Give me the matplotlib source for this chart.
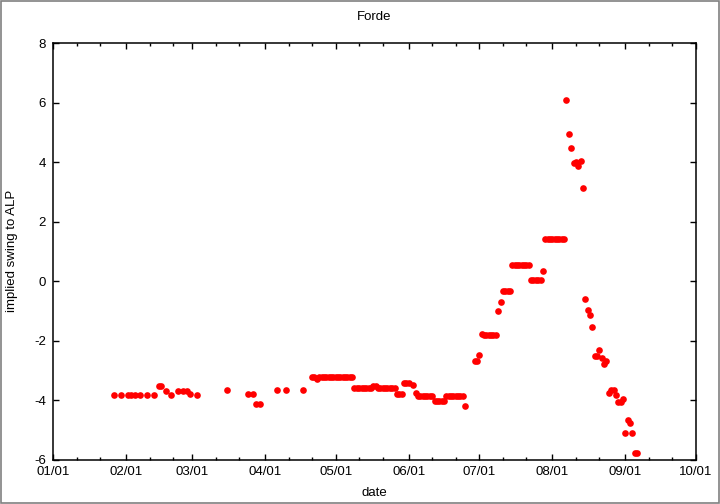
import matplotlib
matplotlib.use('Agg')
import matplotlib.pyplot as plt
import matplotlib.dates as mdates
from matplotlib.patches import Rectangle
import pandas as pd

plt.rcParams['font.family'] = ['Liberation Sans', 'DejaVu Sans']
plt.rcParams['font.size'] = 9.5
plt.rcParams['axes.unicode_minus'] = False  # guion simple como en gnuplot

# Fechas de las encuestas (2013, formato MM-DD)
fechas = [
    '01-27', '01-30', '02-02', '02-03', '02-05', '02-07', '02-10', '02-13',
    '02-15', '02-16', '02-18', '02-20', '02-23', '02-25', '02-27', '02-28',
    '03-03', '03-16', '03-25', '03-27', '03-28', '03-30', '04-06', '04-10',
    '04-17',
    '04-21', '04-22', '04-23', '04-24', '04-25', '04-26', '04-27', '04-28',
    '04-29', '04-30', '05-01', '05-02', '05-03', '05-04', '05-05', '05-06',
    '05-07', '05-08',
    '05-09', '05-10', '05-11', '05-12', '05-13', '05-14', '05-15', '05-16',
    '05-17', '05-18',
    '05-19', '05-20', '05-21', '05-22', '05-23', '05-24', '05-25', '05-26',
    '05-27', '05-28', '05-29', '05-30', '05-31', '06-01', '06-03', '06-04',
    '06-05', '06-06', '06-07', '06-08', '06-09', '06-10', '06-11',
    '06-12', '06-13', '06-14', '06-15', '06-16',
    '06-17', '06-18', '06-19', '06-20', '06-21', '06-22', '06-23', '06-24',
    '06-25', '06-29', '06-30', '07-01', '07-02',
    '07-03', '07-04', '07-05', '07-06', '07-07', '07-08',
    '07-09', '07-10', '07-11', '07-12', '07-13', '07-14',
    '07-15', '07-16', '07-17', '07-18', '07-19', '07-20', '07-21', '07-22',
    '07-23', '07-24', '07-25', '07-26', '07-27', '07-28',
    '07-29', '07-30', '07-31', '08-01', '08-02', '08-03', '08-04', '08-05',
    '08-06',
    '08-07', '08-08', '08-09', '08-10', '08-11', '08-12', '08-13', '08-14',
    '08-15', '08-16', '08-17', '08-18', '08-19', '08-20', '08-21', '08-22',
    '08-23', '08-24', '08-25', '08-26', '08-27', '08-28', '08-29', '08-30',
    '08-31', '09-01', '09-02', '09-03', '09-04', '09-05', '09-06',
]

# Swing implicito hacia ALP
swing = [
    -3.82, -3.82, -3.82, -3.82, -3.82, -3.82, -3.82, -3.82,
    -3.52, -3.52, -3.70, -3.81, -3.69, -3.69, -3.69, -3.79,
    -3.83, -3.65, -3.77, -3.77, -4.12, -4.12, -3.65, -3.65,
    -3.65,
    -3.20, -3.20, -3.28, -3.20, -3.20, -3.20, -3.20, -3.20,
    -3.20, -3.20, -3.20, -3.20, -3.20, -3.20, -3.20, -3.20,
    -3.20, -3.20,
    -3.58, -3.58, -3.58, -3.58, -3.58, -3.58, -3.58, -3.58,
    -3.50, -3.50,
    -3.58, -3.58, -3.58, -3.58, -3.58, -3.58, -3.58, -3.58,
    -3.78, -3.78, -3.78, -3.40, -3.40, -3.40, -3.48, -3.76,
    -3.85, -3.85, -3.85, -3.85, -3.85, -3.85, -3.85,
    -4.02, -4.02, -4.02, -4.02, -4.02,
    -3.86, -3.86, -3.86, -3.86, -3.86, -3.86, -3.86, -3.86,
    -4.20, -2.68, -2.68, -2.48, -1.78,
    -1.82, -1.82, -1.82, -1.82, -1.82, -1.82,
    -1.00, -0.70, -0.31, -0.31, -0.31, -0.31,
    0.53, 0.53, 0.53, 0.53, 0.53, 0.53, 0.53, 0.53,
    0.04, 0.04, 0.04, 0.04, 0.04, 0.34,
    1.43, 1.43, 1.43, 1.43, 1.43, 1.43, 1.43, 1.43,
    1.43,
    6.07, 4.93, 4.49, 3.97, 4.02, 3.87, 4.03, 3.12,
    -0.58, -0.97, -1.13, -1.52, -2.50, -2.50, -2.31, -2.56,
    -2.77, -2.66, -3.76, -3.64, -3.65, -3.81, -4.06, -4.06,
    -3.95, -5.11, -4.65, -4.76, -5.11, -5.75, -5.75,
]

x = pd.to_datetime(['2013-' + f for f in fechas])

fig = plt.figure(figsize=(7.2, 5.04), dpi=100)
ax = fig.add_axes([53 / 720, 1 - 460 / 504, 643 / 720, 417 / 504])

# Puntos rojos
ax.plot(x, swing, linestyle='none', marker='o', color='#ff0000',
        markersize=4.8, markeredgewidth=0)

ax.set_xlim(pd.Timestamp('2013-01-01'), pd.Timestamp('2013-10-01'))
ax.set_ylim(-6, 8)
ax.set_yticks(range(-6, 9, 2))

# Eje de fechas estilo gnuplot
ax.xaxis.set_major_locator(mdates.MonthLocator())
ax.xaxis.set_major_formatter(mdates.DateFormatter('%m/%d'))
ax.xaxis.set_minor_locator(mdates.DayLocator(bymonthday=[11, 21]))

ax.tick_params(which='both', direction='in', top=True, right=True,
               color='black', width=1)
ax.tick_params(which='major', length=4.5)
ax.tick_params(which='minor', length=2.3)
ax.tick_params(axis='y', pad=5)
ax.tick_params(axis='x', pad=4)

for s in ax.spines.values():
    s.set_linewidth(1.1)
    s.set_color('black')

# Titulo y etiquetas
fig.text(374 / 720, 1 - 17 / 504, 'Forde', ha='center', va='center')
fig.text(374 / 720, 1 - 493 / 504, 'date', ha='center', va='center')
fig.text(12 / 720, 1 - 251 / 504, 'implied swing to ALP', ha='center',
         va='center', rotation=90)

# Marco gris alrededor de la imagen
fig.patches.append(Rectangle((0.0007, 0.001), 0.9986, 0.998, fill=False,
                             edgecolor='#808080', linewidth=1.2,
                             transform=fig.transFigure, figure=fig))

fig.savefig('out.png', dpi=100)
